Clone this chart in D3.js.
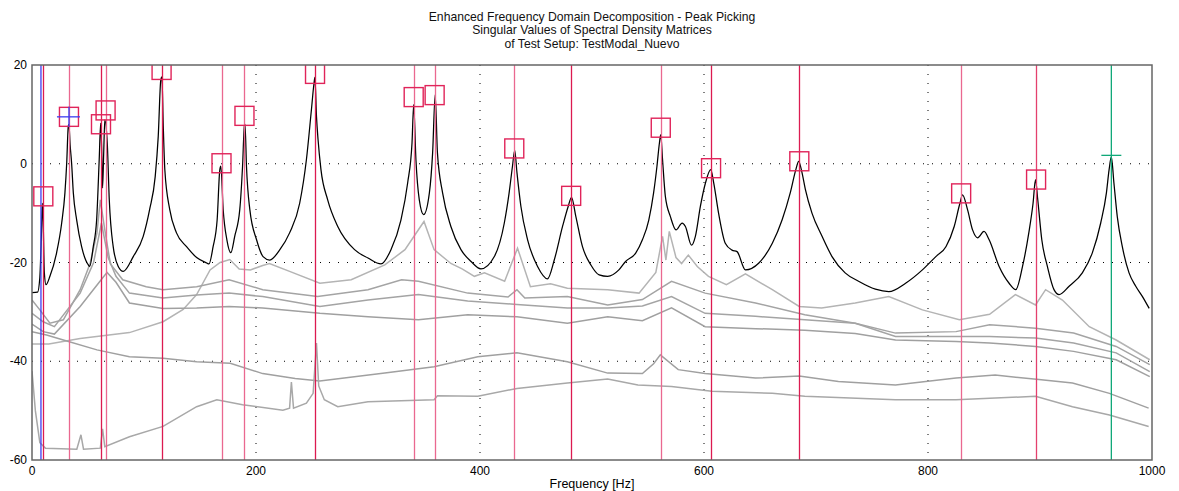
<!DOCTYPE html>
<html>
<head>
<meta charset="utf-8">
<script src="https://cdn.jsdelivr.net/npm/d3@7/dist/d3.min.js"></script>
<style>
  body { margin: 0; background: #fff; }
  text { font-family: Arial, "Liberation Sans", sans-serif; }
</style>
</head>
<body>
<div id="chart"></div>
<script>
// ---- data ----
const titleLines = [
  "Enhanced Frequency Domain Decomposition - Peak Picking",
  "Singular Values of Spectral Density Matrices",
  "of Test Setup: TestModal_Nuevo"
]
const xLabel = "Frequency [Hz]"
const xTicks = [0, 200, 400, 600, 800, 1000]
const yTicks = [20, 0, -20, -40, -60]

// first singular value [Hz, dB]
const sv1 = [[0,-26.1],[5,-26],[7,-23],[8.3,-15],[9.2,-8],[10,-12],[11,-22],[12.5,-24.5],[16,-22.8],[22,-18],[26.5,-12],[29.4,-5.9],[31,0.2],[32.4,7.6],[33,8],[34,4],[35.4,0],[36.9,-5.9],[39.9,-11.4],[44.3,-16.8],[50.3,-20.5],[51.5,-20.8],[54.7,-16.8],[57.7,-11.4],[60,0.8],[61.3,8.2],[62.2,3],[63,-4.9],[64,2],[65,8.9],[67.2,4.2],[69,-7.3],[72.5,-16.8],[77,-20.8],[81.5,-21.8],[90.4,-18.8],[99.3,-14.7],[105,-9.3],[110,-2.6],[112.7,5.5],[115,17],[116,17.6],[117.2,7.6],[118.6,-1.2],[123,-9.3],[129,-14],[138,-16.8],[147,-19],[156,-20.1],[158,-20.3],[161.7,-16.8],[165.3,-11.4],[167.7,-1.2],[168.6,-0.5],[170.7,-9.3],[174,-15.4],[177.5,-18],[181,-14.7],[185.5,-9.3],[188,-0.5],[189.6,7.6],[190.2,8],[191.5,-0.5],[194.5,-9.3],[200.5,-15.4],[206.3,-18.8],[212.3,-19.5],[221,-17.5],[230,-14],[239,-8],[245,0.8],[249.5,11],[251.8,16.3],[252.6,17.5],[254,9.6],[255.4,4.9],[258,-1.2],[264,-7.3],[273,-12.7],[288,-17.4],[300,-19.1],[311.6,-20.3],[320.5,-17.4],[329.4,-11.4],[335.4,-3.9],[339.3,4.2],[340.8,12],[342.8,0.8],[345.8,-7.3],[349.7,-10.3],[354.8,-5.9],[357.7,2.2],[360,14],[362,2.2],[366.6,-5.9],[374,-12.7],[383,-17.4],[392,-19.8],[400.8,-21.3],[412.8,-18.8],[421.7,-12],[426,-5.9],[429,-0.5],[431,2.7],[433,-1.8],[436.5,-8.6],[442.5,-15.4],[451.4,-20.8],[460.3,-23.3],[466.3,-19.5],[473.7,-12.7],[478.8,-8.6],[481.7,-6.8],[485.6,-10.7],[491.5,-16.8],[499,-20.5],[506.4,-22.5],[514,-22.8],[524,-21.5],[530,-19.8],[539,-18.1],[545,-15.4],[550.7,-11.4],[555,-5.9],[558,-0.5],[560.2,4.2],[561.4,5.9],[563,0.8],[565.5,-6.6],[570,-10.7],[575,-13.4],[580.5,-12],[583.4,-12.7],[588.8,-16.5],[592.3,-14.7],[596.8,-8.6],[601.3,-3.9],[606,-1.2],[608.7,-3.9],[613,-10],[619,-16.1],[625,-17.5],[629.5,-17.8],[637,-21.5],[649,-20.1],[661,-16.1],[669.7,-11.4],[677,-5.9],[682,-1.2],[684.5,0.5],[687.5,-1.8],[690.5,-5.2],[696.4,-10],[705.4,-14.7],[714.3,-18.8],[726,-22.1],[738,-23.8],[753,-25.4],[765,-25.9],[780,-24.2],[795,-21.5],[807,-18.8],[816,-16.8],[823.4,-12.7],[828.5,-8],[830.8,-6.3],[835.3,-9.3],[839.8,-13.4],[844.3,-15],[850,-13.7],[854.6,-15.4],[863.5,-20.8],[872.4,-24.2],[878.4,-25.5],[884.4,-20.8],[890,-14],[893.8,-8],[896,-3.2],[898,-7.3],[901.6,-15.4],[906.6,-20.8],[912.5,-25.5],[917,-26.5],[926,-24.8],[937.8,-22.1],[946.8,-18],[954.2,-12],[959.3,-5.9],[961.7,-1.2],[963.7,1.4],[966,-3.9],[969,-10.7],[973.5,-16.8],[979.5,-22.1],[985.5,-24.8],[991.5,-26.9],[997.5,-29.3]]

// lower singular values [Hz, dB]
const sv2 = [[0,-36.5],[15,-36.5],[43,-35.4],[87,-34.2],[117,-32],[135,-29.5],[147,-26.5],[159,-21.5],[168,-20],[176.6,-19.4],[185,-21.3],[195,-21.5],[206,-20.6],[212,-20.2],[230,-21.8],[257,-24.2],[285,-23.5],[315,-20.5],[333,-17.4],[350,-11.7],[359,-17.4],[374,-20.2],[384,-21.3],[395,-22.8],[404,-22.1],[422,-23.8],[433.5,-17.1],[445,-24.9],[463,-24.3],[478,-25.2],[514,-25.5],[542,-26.2],[557,-22],[563,-14.7],[566,-19.5],[569,-13.7],[575,-19],[580,-20.2],[586,-18.5],[594,-20.8],[604,-22.8],[620,-24.5],[637,-22.3],[661,-25.5],[685,-28.9],[705,-29.2],[735,-28.2],[765,-26.9],[795,-29.6],[828,-31.6],[855,-30.5],[878,-26.5],[896,-28.6],[905,-25.5],[920,-27.6],[944,-33],[968,-35.7],[998,-39.7]]
const sv3 = [[0,-27.6],[7,-29.6],[16,-32.3],[28,-31.6],[43,-25.5],[52,-20.1],[58,-14],[61,-7.3],[65,-13.4],[70,-20.3],[81,-23.5],[102,-24.9],[117,-25.5],[147,-24.9],[176,-23.5],[206,-25.5],[255,-26.9],[300,-25.5],[330,-23.5],[345,-23.8],[389,-26.2],[425,-27],[433,-25.5],[440,-27.2],[478,-26.9],[514,-28.6],[545,-27.5],[571,-23.8],[601,-26.2],[646,-28.2],[690,-30.6],[735,-32.3],[771,-34.3],[825,-34],[855,-32.6],[896,-33.3],[930,-34.3],[968,-37],[998,-40.7]]
const sv4 = [[0,-30.3],[10,-32],[20,-33],[43,-26.2],[55,-20],[62,-12],[68,-19],[75,-22.8],[87,-26.2],[117,-27.2],[147,-26.6],[176,-26.2],[206,-26.9],[257,-28.9],[300,-27.6],[345,-26.5],[389,-27.8],[433,-28.5],[478,-29.2],[514,-29.2],[545,-28.8],[571,-26.9],[601,-30.3],[646,-30.9],[690,-31.6],[735,-32.3],[771,-35],[825,-35],[855,-35],[896,-35.3],[930,-36.3],[968,-38.3],[998,-42.1]]
const sv5 = [[0,-32.5],[10,-34],[20,-34.5],[43,-28.9],[60,-24],[67,-22],[75,-24],[87,-28.2],[117,-29.3],[147,-29.2],[176,-28.9],[206,-29.2],[257,-30.3],[300,-31],[345,-31.6],[389,-30.6],[433,-31],[478,-32.3],[514,-31],[545,-31.8],[571,-29.2],[601,-33],[646,-33.4],[690,-33.7],[735,-34.4],[771,-35.7],[825,-36],[855,-36.3],[896,-37],[930,-38],[968,-39.7],[998,-43.1]]
const sv6 = [[0,-34],[13,-34.7],[28,-35.7],[58,-37.7],[87,-39.1],[117,-39.4],[147,-40.1],[177,-40.4],[206,-42.5],[235,-43.5],[257,-44],[315,-42.4],[359,-41.1],[398,-39.1],[433,-38.3],[478,-40.1],[514,-42.4],[545,-42.5],[555,-40.5],[561,-38.7],[577,-41.7],[601,-42.5],[646,-43.4],[685,-43],[720,-44.1],[771,-44.8],[825,-43.4],[860,-42.8],[899,-43.7],[929,-44.4],[962,-46.5],[997,-49.5]]
const sv7 = [[0,-42],[3,-50],[7,-56.5],[12,-57.6],[40,-57.8],[43.7,-54.9],[46,-57.8],[61,-57.6],[63,-53.7],[65,-57.3],[87,-55.3],[117,-53.2],[147,-49.2],[165,-47.8],[188,-48.8],[224,-49.9],[230,-49.5],[231.6,-44.2],[233.5,-49.5],[245,-48.5],[251,-46.5],[254,-36.3],[256,-45],[261,-47.8],[273,-49.2],[300,-48.2],[359,-47.8],[362,-47],[398,-47.1],[433,-45.5],[478,-44.4],[514,-43.6],[541,-44.8],[571,-45.1],[607,-46.1],[661,-46.5],[690,-47.1],[771,-47.8],[825,-47.8],[896,-47.1],[929,-49.2],[962,-50.9],[997,-53.2]]
const lowerSVs = [sv2, sv3, sv4, sv5, sv6, sv7]

// picked peaks: line frequency, marker value
const peakFreq = [10.1, 33, 61.6, 65.7, 115.7, 169.2, 189.7, 252.7, 340.8, 359.5, 430.6, 481.4, 561.4, 606.3, 685.1, 829.6, 896.5]
const peakVal  = [-6.6, 9.5, 8.0, 10.8, 19.0, 0.1, 9.7, 18.2, 13.5, 13.9, 3.1, -6.5, 7.3, -0.9, 0.5, -6.0, -3.2]
const cursorFreq = 8          // blue cursor line
const cursorPoint = [33, 9.5] // blue cross
const activeFreq = 963.7      // green line
const activeVal = 1.7

// ---- styles ----
const peakTone = ["#dc1c52", "#ea6890", "#dc1a50", "#ea6890", "#dc1a50", "#ea6890", "#ea6890", "#dc1a50", "#ea6890",
                  "#ea6890", "#ea6890", "#dc1a50", "#ea6890", "#dc1a50", "#dc1c52", "#ea6890", "#e4406e"]
const grayTone = ["#b4b4b4", "#a4a4a4", "#a4a4a4", "#a0a0a0", "#a0a0a0", "#a8a8a8"]

const width = 1179, height = 491
const x = d3.scaleLinear().domain([0, 1000]).range([32, 1152])
const y = d3.scaleLinear().domain([-60, 20]).range([460, 65])

const svg = d3.select('#chart').append('svg')
    .attr('width', width)
    .attr('height', height)
    .style('background', '#fff')

svg.append('clipPath').attr('id', 'plot-clip')
    .append('rect')
    .attr('x', x(0)).attr('y', y(20))
    .attr('width', x(1000) - x(0)).attr('height', y(-60) - y(20))

// title
svg.append('g').selectAll('text')
    .data(titleLines)
    .enter()
    .append('text')
    .attr('x', (x(0) + x(1000)) / 2)
    .attr('y', (d, i) => 21 + i * 13.4)
    .attr('text-anchor', 'middle')
    .attr('font-size', 12.2)
    .attr('fill', '#111')
    .text(d => d)

// dotted grid
const grid = svg.append('g').attr('class', 'grid')
grid.selectAll('.vgrid')
    .data(xTicks.filter(t => t > 0 && t < 1000))
    .enter().append('line')
    .attr('x1', d => x(d)).attr('x2', d => x(d))
    .attr('y1', y(20)).attr('y2', y(-60))
    .attr('stroke', '#000').attr('stroke-dasharray', '1 8')
grid.selectAll('.hgrid')
    .data(yTicks.filter(t => t < 20 && t > -60))
    .enter().append('line')
    .attr('x1', x(0)).attr('x2', x(1000))
    .attr('y1', d => y(d)).attr('y2', d => y(d))
    .attr('stroke', '#000').attr('stroke-dasharray', '1 8')

const line = d3.line()
    .x(d => x(d[0]))
    .y(d => y(d[1]))
const smoothLine = d3.line()
    .x(d => x(d[0]))
    .y(d => y(d[1]))
    .curve(d3.curveMonotoneX)

const plot = svg.append('g').attr('clip-path', 'url(#plot-clip)')

// lower singular values
plot.selectAll('.sv-low')
    .data(lowerSVs)
    .enter().append('path')
    .attr('d', line)
    .attr('fill', 'none')
    .attr('stroke', (d, i) => grayTone[i])
    .attr('stroke-width', 1.5)

// first singular value
plot.append('path')
    .datum(sv1)
    .attr('d', smoothLine)
    .attr('fill', 'none')
    .attr('stroke', '#000')
    .attr('stroke-width', 1.25)
    .attr('stroke-linejoin', 'round')

// peak lines
plot.selectAll('.peak-line')
    .data(peakFreq)
    .enter().append('line')
    .attr('x1', d => Math.round(x(d)) + 0.5).attr('x2', d => Math.round(x(d)) + 0.5)
    .attr('y1', y(20)).attr('y2', y(-60))
    .attr('stroke', (d, i) => peakTone[i])
    .attr('stroke-width', 1.3)

// cursor (blue) and active (green) lines
plot.append('line')
    .attr('x1', x(cursorFreq)).attr('x2', x(cursorFreq))
    .attr('y1', y(20)).attr('y2', y(-60))
    .attr('stroke', '#3c3cf0').attr('stroke-width', 1.3)
plot.append('line')
    .attr('x1', x(activeFreq)).attr('x2', x(activeFreq))
    .attr('y1', y(20)).attr('y2', y(-60))
    .attr('stroke', '#10a878').attr('stroke-width', 1.3)
plot.append('line')
    .attr('x1', x(activeFreq) - 10).attr('x2', x(activeFreq) + 10)
    .attr('y1', y(activeVal)).attr('y2', y(activeVal))
    .attr('stroke', '#10a878').attr('stroke-width', 1.3)

// peak markers
const box = 19
plot.selectAll('.peak-box')
    .data(peakFreq.map((f, i) => [f, peakVal[i]]))
    .enter().append('rect')
    .attr('x', d => x(d[0]) - box / 2)
    .attr('y', d => y(d[1]) - box / 2)
    .attr('width', box).attr('height', box)
    .attr('fill', 'none')
    .attr('stroke', '#e0245a')
    .attr('stroke-width', 1.4)

// blue cross at the cursor peak
plot.append('line')
    .attr('x1', x(cursorPoint[0]) - 12).attr('x2', x(cursorPoint[0]) + 11)
    .attr('y1', y(cursorPoint[1])).attr('y2', y(cursorPoint[1]))
    .attr('stroke', '#3c3cf0').attr('stroke-width', 1.3)
plot.append('line')
    .attr('x1', x(cursorPoint[0])).attr('x2', x(cursorPoint[0]))
    .attr('y1', y(cursorPoint[1]) - 10).attr('y2', y(cursorPoint[1]) + 10)
    .attr('stroke', '#3c3cf0').attr('stroke-width', 1.3)

// frame
svg.append('rect')
    .attr('x', x(0)).attr('y', y(20))
    .attr('width', x(1000) - x(0)).attr('height', y(-60) - y(20))
    .attr('fill', 'none')
    .attr('stroke', '#666')
    .attr('stroke-width', 1.5)

// tick labels
svg.append('g').selectAll('text')
    .data(yTicks)
    .enter().append('text')
    .attr('x', 27)
    .attr('y', d => y(d))
    .attr('dy', '0.35em')
    .attr('text-anchor', 'end')
    .attr('font-size', 12)
    .attr('fill', '#000')
    .text(d => d)

svg.append('g').selectAll('text')
    .data(xTicks)
    .enter().append('text')
    .attr('x', d => x(d))
    .attr('y', 475)
    .attr('text-anchor', 'middle')
    .attr('font-size', 12)
    .attr('fill', '#000')
    .text(d => d)

svg.append('text')
    .attr('x', (x(0) + x(1000)) / 2)
    .attr('y', 488)
    .attr('text-anchor', 'middle')
    .attr('font-size', 12.5)
    .attr('fill', '#000')
    .text(xLabel)
</script>
</body>
</html>
